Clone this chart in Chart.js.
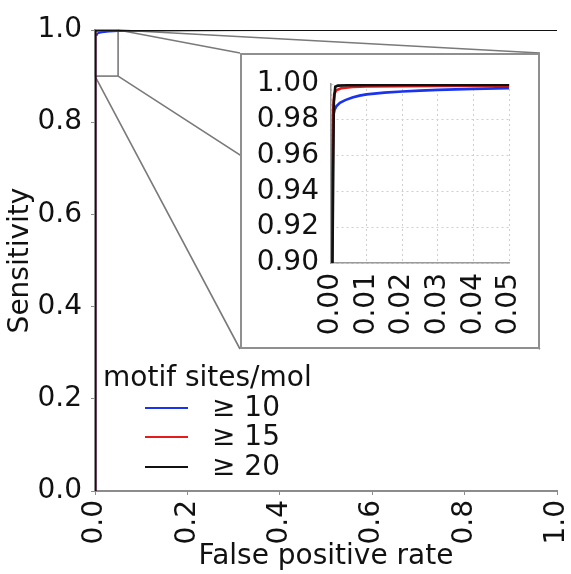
<!DOCTYPE html>
<html>
<head>
<meta charset="utf-8">
<script src="https://cdn.jsdelivr.net/npm/chart.js@4.4.1/dist/chart.umd.min.js"></script>
<style>
  html, body { margin: 0; padding: 0; background: #fff; }
  #wrap { position: relative; width: 571px; height: 574px; font-family: 'DejaVu Sans', sans-serif; }
  #roc { position: absolute; left: 0; top: 0; }
  #insetBox {
    position: absolute; left: 240px; top: 53px; width: 300px; height: 296px;
    box-sizing: border-box; border: 2px solid #8f8f8f; background: #fff;
  }
  #legend { position: absolute; left: 103px; top: 362px; font-size: 28px; line-height: 29.5px; color: #111; }
  #legend .row { white-space: pre; }
  #legend .swatch { display: inline-block; width: 43px; height: 2px; margin: 0 24px 0 42px; vertical-align: middle; }
</style>
</head>
<body>
<div id="wrap">
  <canvas id="roc" width="571" height="574"></canvas>
  <div id="insetBox"><canvas id="inset" width="296" height="292"></canvas></div>
  <div id="legend"></div>
</div>
<script>
// ROC curves, one per motif-site threshold
const seriesLabels = ['\u2265 10', '\u2265 15', '\u2265 20'];
const seriesColors = ['#1a33ee', '#e51c1c', '#111111'];

const fpr10 = [0, 0.0002, 0.0004, 0.0006, 0.001, 0.0015, 0.0025, 0.004, 0.006, 0.008, 0.01, 0.015, 0.02, 0.025, 0.03, 0.04, 0.05, 0.1, 0.2, 0.4, 1.0];
const tpr10 = [0, 0.85, 0.95, 0.982, 0.9855, 0.9875, 0.9895, 0.991, 0.9925, 0.9935, 0.9942, 0.9952, 0.9958, 0.9963, 0.9967, 0.9973, 0.9977, 0.9988, 0.9995, 0.9999, 1.0];

const fpr15 = [0, 0.0003, 0.0006, 0.0009, 0.0015, 0.003, 0.006, 0.01, 0.03, 0.05, 0.1, 0.3, 1.0];
const tpr15 = [0, 0.9, 0.985, 0.9945, 0.9965, 0.9977, 0.9983, 0.9986, 0.9989, 0.9991, 0.9995, 0.9999, 1.0];

const fpr20 = [0, 0.0004, 0.0008, 0.0012, 0.002, 0.005, 0.02, 0.05, 0.2, 1.0];
const tpr20 = [0, 0.9, 0.99, 0.9985, 0.9991, 0.9993, 0.9994, 0.9995, 0.9998, 1.0];

const mainXTicks = [0, 0.2, 0.4, 0.6, 0.8, 1.0];
const mainYTicks = [0, 0.2, 0.4, 0.6, 0.8, 1.0];
const insetXTicks = [0, 0.01, 0.02, 0.03, 0.04, 0.05];
const insetYTicks = [0.90, 0.92, 0.94, 0.96, 0.98, 1.00];
const insetXRange = [0, 0.05];
const insetYRange = [0.90, 1.00];
const legendTitle = 'motif sites/mol';

const toPoints = (xs, ys) => xs.map((x, i) => ({ x: x, y: ys[i] }));
const curves = [toPoints(fpr10, tpr10), toPoints(fpr15, tpr15), toPoints(fpr20, tpr20)];

const font = { family: "'DejaVu Sans', sans-serif", size: 28 };
const ink = '#111';

function makeDatasets(width) {
  return curves.map((pts, i) => ({
    label: seriesLabels[i],
    data: pts,
    showLine: true,
    borderColor: seriesColors[i],
    backgroundColor: seriesColors[i],
    borderWidth: width,
    pointRadius: 0,
    tension: 0,
    order: 3 - i // black on top
  }));
}

// zoom rectangle on the main axes plus the connector lines to the inset box
const zoomMarks = {
  id: 'zoomMarks',
  beforeDatasetsDraw(chart) {
    const { ctx, scales } = chart;
    const x0 = scales.x.getPixelForValue(insetXRange[0]);
    const x1 = scales.x.getPixelForValue(insetXRange[1]);
    const y0 = scales.y.getPixelForValue(insetYRange[0]);
    const y1 = scales.y.getPixelForValue(insetYRange[1]);
    const box = document.getElementById('insetBox');
    const bx0 = box.offsetLeft, by0 = box.offsetTop;
    const bx1 = bx0 + box.offsetWidth, by1 = by0 + box.offsetHeight;
    ctx.save();
    ctx.strokeStyle = '#7a7a7a';
    ctx.lineWidth = 1.6;
    ctx.strokeRect(x0, y1, x1 - x0, y0 - y1);
    ctx.beginPath();
    ctx.moveTo(x1, y1); ctx.lineTo(bx0, by0);
    ctx.moveTo(x1, y1); ctx.lineTo(bx1, by0);
    ctx.moveTo(x1, y0); ctx.lineTo(bx1, by1);
    ctx.moveTo(x0, y0); ctx.lineTo(bx0, by1);
    ctx.stroke();
    ctx.restore();
  }
};

const mainChart = new Chart(document.getElementById('roc'), {
  type: 'scatter',
  data: { datasets: makeDatasets(2) },
  options: {
    responsive: false,
    animation: false,
    layout: { padding: { top: 30, right: 14, left: 0, bottom: 0 } },
    plugins: { legend: { display: false }, tooltip: { enabled: false } },
    scales: {
      x: {
        type: 'linear', min: 0, max: 1,
        afterBuildTicks: s => { s.ticks = mainXTicks.map(v => ({ value: v })); },
        afterFit: s => { s.height = 83; s.paddingLeft = 0; s.paddingRight = 0; },
        ticks: { font, color: ink, padding: 5, autoSkip: false, minRotation: 90, maxRotation: 90, callback: v => v.toFixed(1) },
        grid: { drawOnChartArea: false, color: '#8c8c8c', tickLength: 4 },
        border: { color: '#8c8c8c', width: 2 },
        title: { display: true, text: 'False positive rate', font, color: ink, padding: { top: 0, bottom: 0 } }
      },
      y: {
        type: 'linear', min: 0, max: 1,
        afterBuildTicks: s => { s.ticks = mainYTicks.map(v => ({ value: v })); },
        afterFit: s => { s.width = 95; s.paddingTop = 0; s.paddingBottom = 0; },
        ticks: { font, color: ink, padding: 9, autoSkip: false, callback: v => v.toFixed(1) },
        grid: { drawOnChartArea: false, color: '#8c8c8c', tickLength: 4 },
        border: { color: '#8c8c8c', width: 2 },
        title: { display: true, text: 'Sensitivity', font, color: ink, padding: { top: 4, bottom: 4 } }
      }
    }
  },
  plugins: [zoomMarks]
});

const insetChart = new Chart(document.getElementById('inset'), {
  type: 'scatter',
  data: { datasets: makeDatasets(2.6) },
  options: {
    responsive: false,
    animation: false,
    layout: { padding: { top: 29, right: 29, left: 0, bottom: 0 } },
    plugins: { legend: { display: false }, tooltip: { enabled: false } },
    scales: {
      x: {
        type: 'linear', min: insetXRange[0], max: insetXRange[1],
        afterBuildTicks: s => { s.ticks = insetXTicks.map(v => ({ value: v })); },
        afterFit: s => { s.height = 84; s.paddingLeft = 0; s.paddingRight = 0; },
        ticks: { font, color: ink, padding: 10, autoSkip: false, minRotation: 90, maxRotation: 90, callback: v => v.toFixed(2) },
        grid: { color: '#cfcfcf', drawTicks: false, lineWidth: 1 },
        border: { color: '#9a9a9a', width: 1.5, dash: [2, 3] }
      },
      y: {
        type: 'linear', min: insetYRange[0], max: insetYRange[1],
        afterBuildTicks: s => { s.ticks = insetYTicks.map(v => ({ value: v })); },
        afterFit: s => { s.width = 89; s.paddingTop = 0; s.paddingBottom = 0; },
        ticks: { font, color: ink, padding: 12, autoSkip: false, callback: v => v.toFixed(2) },
        grid: { color: '#cfcfcf', drawTicks: false, lineWidth: 1 },
        border: { color: '#9a9a9a', width: 1.5, dash: [2, 3] }
      }
    }
  }
});

// legend built from the dataset labels and colours
const legend = document.getElementById('legend');
const head = document.createElement('div');
head.textContent = legendTitle;
legend.appendChild(head);
mainChart.data.datasets.forEach(ds => {
  const row = document.createElement('div');
  row.className = 'row';
  const sw = document.createElement('span');
  sw.className = 'swatch';
  sw.style.background = ds.borderColor;
  row.appendChild(sw);
  row.appendChild(document.createTextNode(ds.label));
  legend.appendChild(row);
});
</script>
</body>
</html>
